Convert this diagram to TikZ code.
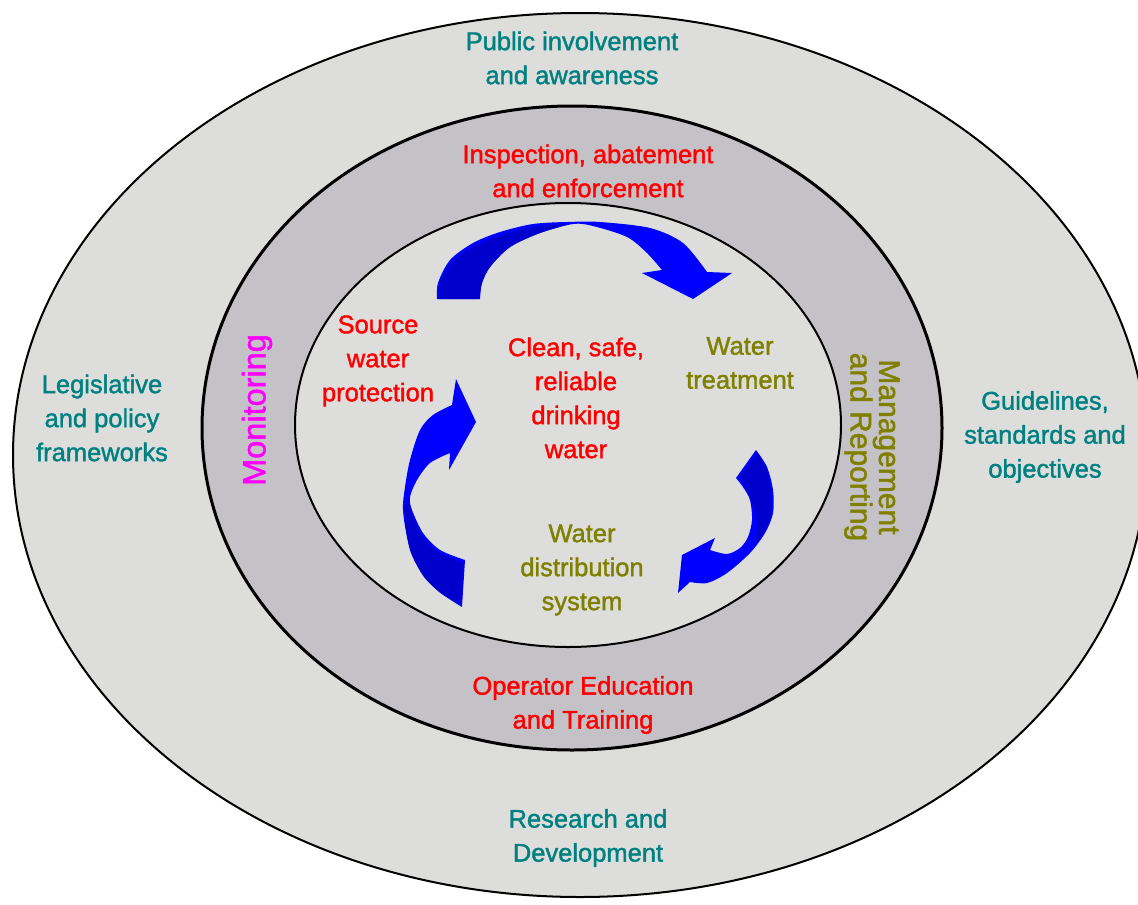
\documentclass[tikz,border=0pt]{standalone}
\usepackage{fontspec}
\setmainfont{Liberation Sans}[FakeBold=1.5]
\definecolor{ringlight}{RGB}{221,222,220}
\definecolor{ringdark}{RGB}{196,194,198}
\definecolor{tealtxt}{RGB}{0,128,128}
\definecolor{olivetxt}{RGB}{128,128,0}
\definecolor{redtxt}{RGB}{255,0,0}
\definecolor{magtxt}{RGB}{255,0,255}
\definecolor{arrowblue}{RGB}{0,0,255}
\definecolor{arrowdark}{RGB}{0,0,204}
\begin{document}
\begin{tikzpicture}[x=1pt,y=-1pt,
  lbl/.style={align=center,inner sep=0pt,font=\fontsize{25.5}{34}\selectfont},
  biglbl/.style={align=center,inner sep=0pt,font=\fontsize{30}{28.5}\selectfont},
  ring/.style={draw=black}]
\clip (0,0) rectangle (1138,905);
\fill[white] (0,0) rectangle (1138,905);
% rings
\filldraw[ring,fill=ringlight,line width=2pt] (580,455) ellipse [x radius=567, y radius=442];
\filldraw[ring,fill=ringdark,line width=3pt] (572,428) ellipse [x radius=370, y radius=322];
\filldraw[ring,fill=ringlight,line width=2pt] (568,425) ellipse [x radius=273, y radius=222];
% arrow 1 (top)
\fill[arrowblue] plot[smooth] coordinates {(437,299) (438,283) (450,260) (473,243) (500,232) (533,224) (567,222) (600,222) (650,228) (683,243) (707,272)}
  -- (732,273) -- (693,299) -- (642,273) -- (662,270)
  -- plot[smooth] coordinates {(662,270) (647,253) (627,237) (593,226) (573,224) (540,233) (510,247) (490,267) (482,283) (480,299)} -- cycle;
\fill[arrowdark] plot[smooth] coordinates {(439,299) (440,283) (452,262) (475,246) (503,235) (535,227) (570,224)}
  -- plot[smooth] coordinates {(570,224) (540,233) (510,247) (490,267) (482,283) (479,299)} -- cycle;
% arrow 2 (left)
\fill[arrowblue] plot[smooth] coordinates {(462,607) (437,590) (420,567) (408,540) (403,510) (405,487) (410,460) (420,430) (433,415) (452,405)}
  -- (456,379) -- (476,422) -- (449,470) -- (450,453)
  -- plot[smooth] coordinates {(450,453) (430,463) (417,480) (410,497) (412,510) (423,533) (440,550) (465,560)} -- cycle;
\fill[arrowdark] plot[smooth] coordinates {(405,505) (406,530) (411,553) (424,577) (442,594) (461,604)}
  -- (463,563) -- plot[smooth] coordinates {(463,563) (440,553) (422,536) (411,512) (409,502)} -- cycle;
% arrow 3 (right)
\fill[arrowblue] (736,478) -- plot[smooth] coordinates {(756,450) (767,467) (773,490) (773,513) (765,533) (750,553) (727,573) (707,583) (690,582)}
  -- (678,593) -- (682,555) -- (715,538) -- (710,550)
  -- plot[smooth] coordinates {(710,550) (727,554) (740,548) (748,537) (752,520) (750,500) (743,487) (736,478)} -- cycle;
\fill[arrowdark] (740,477) -- plot[smooth] coordinates {(757,453) (766,468) (771,490) (771,513) (764,533) (755,545)}
  -- plot[smooth] coordinates {(755,545) (757,520) (750,497) (740,477)} -- cycle;
% outer ring texts
\node[lbl,text=tealtxt] (pub) at (572,58) {Public involvement\\and awareness};
\node[lbl,text=tealtxt] (leg) at (102,418) {Legislative\\and policy\\frameworks};
\node[lbl,text=tealtxt] (gui) at (1045,437) {Guidelines,\\standards and\\objectives};
\node[lbl,text=tealtxt] (res) at (588,838) {Research and\\Development};
% middle ring texts
\node[lbl,text=redtxt] (insp) at (588,171) {Inspection, abatement\\and enforcement};
\node[lbl,text=redtxt] (oper) at (583,705) {Operator Education\\and Training};
\node[biglbl,text=magtxt,rotate=90,font=\fontsize{32.5}{34}\selectfont] (mon) at (257,410) {Monitoring};
\node[biglbl,text=olivetxt,rotate=-90] (man) at (872,447) {Management\\and Reporting};
% inner texts
\node[lbl,text=redtxt] (src) at (378,361) {Source\\water\\protection};
\node[lbl,text=redtxt] (clean) at (576,398) {Clean, safe,\\reliable\\drinking\\water};
\node[lbl,text=olivetxt] (treat) at (740,363) {Water\\treatment};
\node[lbl,text=olivetxt] (dist) at (582,570) {Water\\distribution\\system};
\end{tikzpicture}
\end{document}
